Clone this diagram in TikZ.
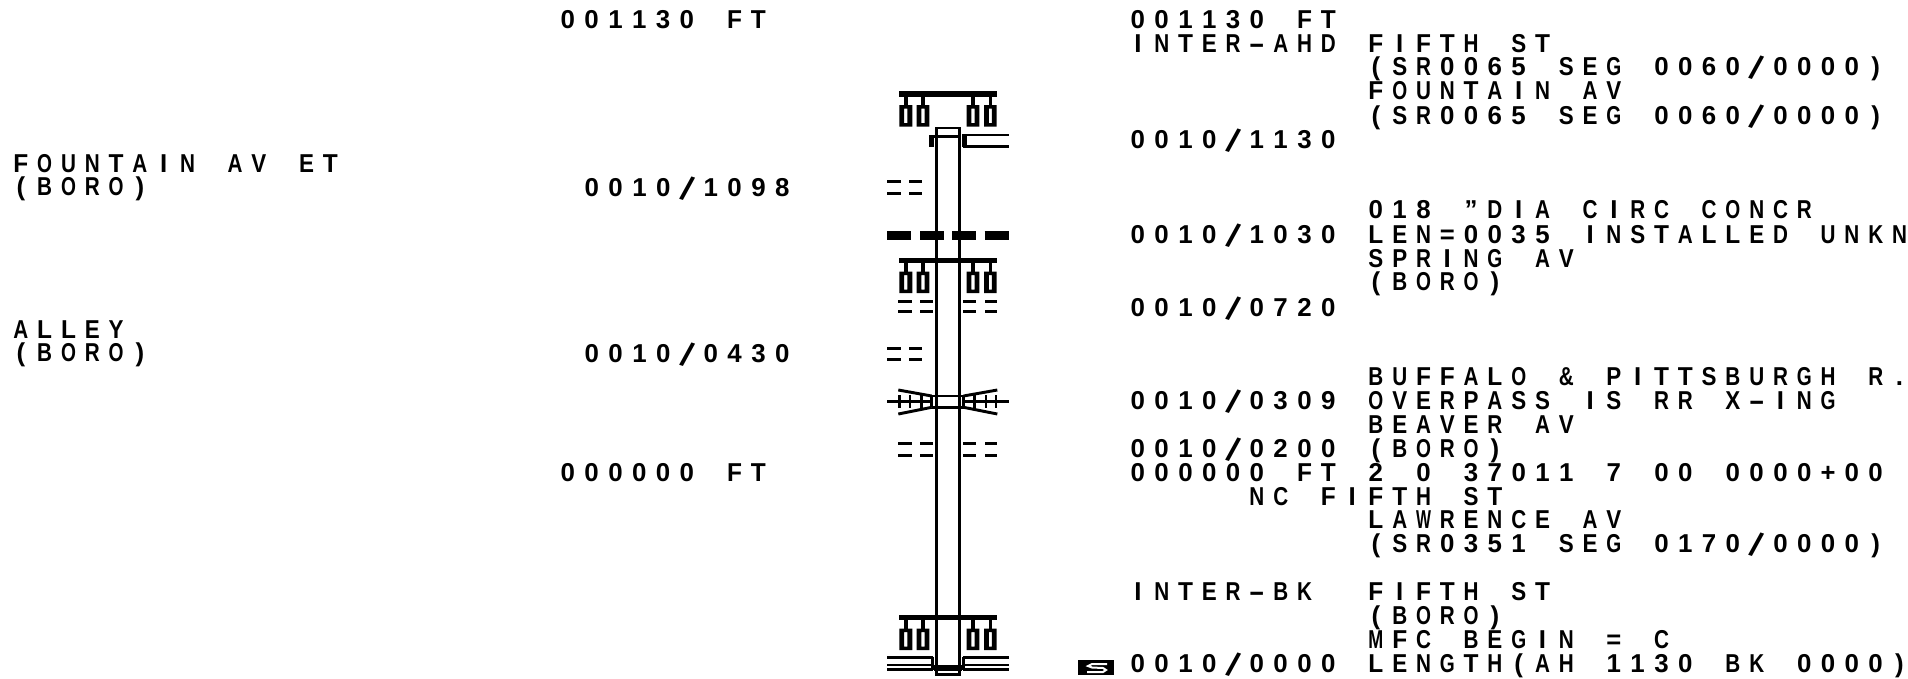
\documentclass[tikz,border=0pt]{standalone}
\usepackage{fontspec}
\usepackage{graphicx}
\setmainfont{Liberation Sans}[BoldFont=*-Bold]
\ExplSyntaxOn
\box_new:N \l_mono_box
\cs_new_protected:Npn \mono_char:n #1
  {
    \hbox_to_wd:nn {17.85pt}
      {
        \hss
        \str_case:nnF {#1}
          {
            {/} { \raisebox{-3.4pt}{\rotatebox[origin=c]{-18}{\scalebox{1.3}{/}}} }
            {-} { \scalebox{1.9}[1]{-} }
          }
          {
            \hbox_set:Nn \l_mono_box {#1}
            \dim_compare:nNnTF {\box_wd:N \l_mono_box} > {11.2pt}
              { \scalebox{ \fp_eval:n { 11.2 / \dim_to_fp:n {\box_wd:N \l_mono_box} } }[1]{\box_use:N \l_mono_box} }
              { \box_use:N \l_mono_box }
          }
        \hss
      }
  }
\NewDocumentCommand \mono { m } { \str_map_inline:nn {#1} { \mono_char:n {##1} } }
\ExplSyntaxOff
\tikzset{
  txt/.style={anchor=base west,inner sep=0pt,outer sep=0pt,font=\bfseries\fontsize{19.4pt}{19.4pt}\selectfont,text=black},
  road/.style={line width=2pt,draw=black},
  dashthin/.style={line width=1.9pt,draw=black},
  dashthick/.style={line width=6.6pt,draw=black},
  barline/.style={line width=3.9pt,draw=black},
  stem/.style={line width=2.6pt,draw=black},
  midline/.style={line width=2.2pt,draw=black},
  lowline/.style={line width=1.6pt,draw=black}
}
\newcommand{\postset}[1]{%
  \draw[barline] (899.3,#1) -- (996.7,#1);
  \foreach \a/\b in {899.3/912.3,916.7/929.3,966.7/979.3,984/996.7}{
    \draw[stem] ({(\a+\b)/2},#1) -- ({(\a+\b)/2},#1+11);
    \fill[black,even odd rule] (\a,#1+11) rectangle (\b,#1+32.5)
      ({(\a+\b)/2-1.6},#1+14.5) rectangle ({(\a+\b)/2+1.6},#1+29);
  }
}
\begin{document}
\begin{tikzpicture}[x=0.75pt,y=-0.75pt]
\useasboundingbox (0,0) rectangle (1908,678);
% left column
\node[txt] (l1) at (9,172) {\mono{FOUNTAIN AV ET}};
\node[txt] (l2) at (9,195) {\mono{(BORO)}};
\node[txt] (l3) at (9,338) {\mono{ALLEY}};
\node[txt] (l4) at (9,361) {\mono{(BORO)}};
% middle column
\node[txt] (m1) at (556,28) {\mono{001130 FT}};
\node[txt] (m2) at (580,196) {\mono{0010/1098}};
\node[txt] (m3) at (580,362) {\mono{0010/0430}};
\node[txt] (m4) at (556,481) {\mono{000000 FT}};
% right column
\node[txt] (r1) at (1126,28) {\mono{001130 FT}};
\node[txt] (r2) at (1126,52) {\mono{INTER-AHD}};
\node[txt] (r3) at (1364,52) {\mono{FIFTH ST}};
\node[txt] (r4) at (1364,75) {\mono{(SR0065 SEG 0060/0000)}};
\node[txt] (r5) at (1364,99) {\mono{FOUNTAIN AV}};
\node[txt] (r6) at (1364,124) {\mono{(SR0065 SEG 0060/0000)}};
\node[txt] (r7) at (1126,148) {\mono{0010/1130}};
\node[txt] (r8) at (1364,218) {\mono{018 "DIA CIRC CONCR}};
\node[txt] (r9) at (1126,243) {\mono{0010/1030}};
\node[txt] (r10) at (1364,243) {\mono{LEN=0035 INSTALLED UNKN}};
\node[txt] (r11) at (1364,267) {\mono{SPRING AV}};
\node[txt] (r12) at (1364,290) {\mono{(BORO)}};
\node[txt] (r13) at (1126,316) {\mono{0010/0720}};
\node[txt] (r14) at (1364,385) {\mono{BUFFALO & PITTSBURGH R.}};
\node[txt] (r15) at (1126,409) {\mono{0010/0309}};
\node[txt] (r16) at (1364,409) {\mono{OVERPASS IS RR X-ING}};
\node[txt] (r17) at (1364,433) {\mono{BEAVER AV}};
\node[txt] (r18) at (1126,457) {\mono{0010/0200}};
\node[txt] (r19) at (1364,457) {\mono{(BORO)}};
\node[txt] (r20) at (1126,481) {\mono{000000 FT 2 0 37011 7 00 0000+00}};
\node[txt] (r21) at (1245,505) {\mono{NC FIFTH ST}};
\node[txt] (r22) at (1364,528) {\mono{LAWRENCE AV}};
\node[txt] (r23) at (1364,552) {\mono{(SR0351 SEG 0170/0000)}};
\node[txt] (r24) at (1126,600) {\mono{INTER-BK}};
\node[txt] (r25) at (1364,600) {\mono{FIFTH ST}};
\node[txt] (r26) at (1364,624) {\mono{(BORO)}};
\node[txt] (r27) at (1364,648) {\mono{MFC BEGIN = C}};
\node[txt] (r28) at (1126,672) {\mono{0010/0000}};
\node[txt] (r29) at (1364,672) {\mono{LENGTH(AH 1130 BK 0000)}};
% S badge
\fill[black] (1078,660) rectangle (1114,675);
\draw[white,line width=1.5pt] (1107,664) -- (1092,664) -- (1088,666) -- (1092,667.5) -- (1103,668) -- (1106,670) -- (1103,672) -- (1087,672);
% road
\draw[road] (936.7,674.5) -- (936.7,128) -- (959.3,128) -- (959.3,674.5) -- cycle;
% gantries
\postset{94}
\postset{260.5}
\postset{617.5}
% top intersection
\draw[midline] (929.3,136.5) -- (960,136.5);
\draw[barline] (931.5,135) -- (931.5,147);
\draw[barline] (964.7,134) -- (964.7,147.3);
\draw[midline] (963,135) -- (1008.7,135);
\draw[midline] (963,146.3) -- (1008.7,146.3);
% dashes
\foreach \y in {181.7,193.3,348.7,359.3}{
  \draw[dashthin] (887.3,\y) -- (900.7,\y);
  \draw[dashthin] (909,\y) -- (922.3,\y);
}
\foreach \y in {301.7,311.7,443.3,455.3}{
  \draw[dashthin] (898.3,\y) -- (911.7,\y);
  \draw[dashthin] (920,\y) -- (932.7,\y);
  \draw[dashthin] (963.3,\y) -- (976,\y);
  \draw[dashthin] (985,\y) -- (997.3,\y);
}
\foreach \a/\b in {887.3/911,920/944,952/976,984.7/1008.7}{
  \draw[dashthick] (\a,235.7) -- (\b,235.7);
}
% overpass
\draw[midline] (931.7,396) -- (963.5,396) (931.7,407.3) -- (963.5,407.3);
\draw[midline] (887.3,401.5) -- (933,401.5) (963,401.5) -- (1008.7,401.5);
\draw[midline] (898.3,390) -- (931.7,396) (898.3,414) -- (931.7,407.3);
\draw[midline] (997.3,390) -- (963.5,396) (997.3,414) -- (963.5,407.3);
\draw[midline] (931.7,396) -- (931.7,407.3) (963.5,396) -- (963.5,407.3);
\foreach \x in {899.3,910,921.7,974.3,986,996}{
  \draw[midline] (\x,395) -- (\x,408);
}
% bottom intersection
\draw[midline] (887.3,657.5) -- (933,657.5) (963,657.5) -- (1008.7,657.5);
\draw[lowline] (887.3,664.8) -- (933,664.8) (963,664.8) -- (1008.7,664.8);
\draw[midline] (887.3,669.3) -- (933,669.3) (963,669.3) -- (1008.7,669.3);
\draw[midline] (932.5,656.5) -- (932.5,670);
\draw[midline] (963.5,656.5) -- (963.5,670);
\draw[line width=4.3pt] (934,667.8) -- (962,667.8);
\end{tikzpicture}
\end{document}
